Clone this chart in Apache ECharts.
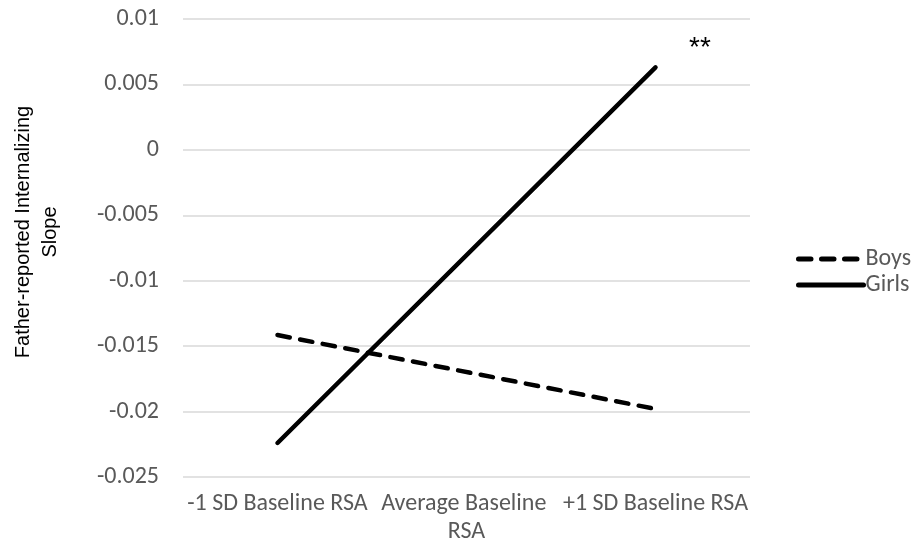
<!DOCTYPE html>
<html>
<head>
<meta charset="utf-8">
<script src="https://cdn.jsdelivr.net/npm/echarts@6/dist/echarts.min.js"></script>
<style>
  html, body { margin: 0; padding: 0; background: #fff; }
  #chart { width: 917px; height: 552px; }
</style>
</head>
<body>
<div id="chart"></div>
<script>
// Baseline RSA levels (x categories)
const categories = ['-1 SD Baseline RSA', 'Average Baseline RSA', '+1 SD Baseline RSA'];
// Simple slopes of father-reported internalizing, by child sex
const boys = [-0.01415, null, -0.0198];
const girls = [-0.0224, null, 0.0063];
// Y-axis range and step
const yMin = -0.025;
const yMax = 0.01;
const yStep = 0.005;

const labelFont = 'Carlito, Lato, sans-serif';
const chart = echarts.init(document.getElementById('chart'), null, { renderer: 'canvas' });

chart.setOption({
  animation: false,
  backgroundColor: '#ffffff',
  grid: { left: 183, right: 167, top: 19, bottom: 75, containLabel: false },
  legend: {
    orient: 'vertical',
    left: 791,
    top: 242,
    itemWidth: 65,
    itemHeight: 24,
    itemGap: 2,
    itemStyle: { opacity: 0 },
    lineStyle: { width: 5, cap: 'round' },
    textStyle: { fontFamily: labelFont, fontSize: 24, color: '#595959', padding: [0, 0, 0, -3] },
    data: ['Boys', 'Girls']
  },
  xAxis: {
    type: 'category',
    data: categories,
    boundaryGap: true,
    axisLine: { show: false },
    axisTick: { show: false },
    axisLabel: {
      color: '#595959',
      fontFamily: labelFont,
      fontSize: 24,
      margin: 13,
      width: 186,
      overflow: 'break',
      lineHeight: 28,
      interval: 0
    }
  },
  yAxis: {
    type: 'value',
    min: yMin,
    max: yMax,
    interval: yStep,
    axisLine: { show: false },
    axisTick: { show: false },
    splitLine: { lineStyle: { color: '#d9d9d9', width: 1.5 } },
    axisLabel: {
      color: '#595959',
      fontFamily: labelFont,
      fontSize: 24,
      margin: 24,
      formatter: v => String(Math.round(v * 1000) / 1000)
    }
  },
  graphic: [
    {
      type: 'text',
      x: 37,
      y: 232,
      rotation: Math.PI / 2,
      style: {
        text: 'Father-reported Internalizing\nSlope',
        font: '20px "Liberation Sans", Arial, sans-serif',
        fill: '#000000',
        align: 'center',
        verticalAlign: 'middle',
        lineHeight: 27
      }
    },
    {
      type: 'text',
      x: 700,
      y: 48,
      style: {
        text: '**',
        font: '28px "Liberation Sans", Arial, sans-serif',
        fill: '#000000',
        align: 'center',
        verticalAlign: 'middle'
      }
    }
  ],
  series: [
    {
      name: 'Boys',
      type: 'line',
      data: boys,
      connectNulls: true,
      symbol: 'none',
      lineStyle: { color: '#000000', width: 4.5, type: [12.5, 10.5], cap: 'round' },
      itemStyle: { color: '#000000' }
    },
    {
      name: 'Girls',
      type: 'line',
      data: girls,
      connectNulls: true,
      symbol: 'none',
      lineStyle: { color: '#000000', width: 4.5, cap: 'round' },
      itemStyle: { color: '#000000' }
    }
  ]
});
</script>
</body>
</html>
